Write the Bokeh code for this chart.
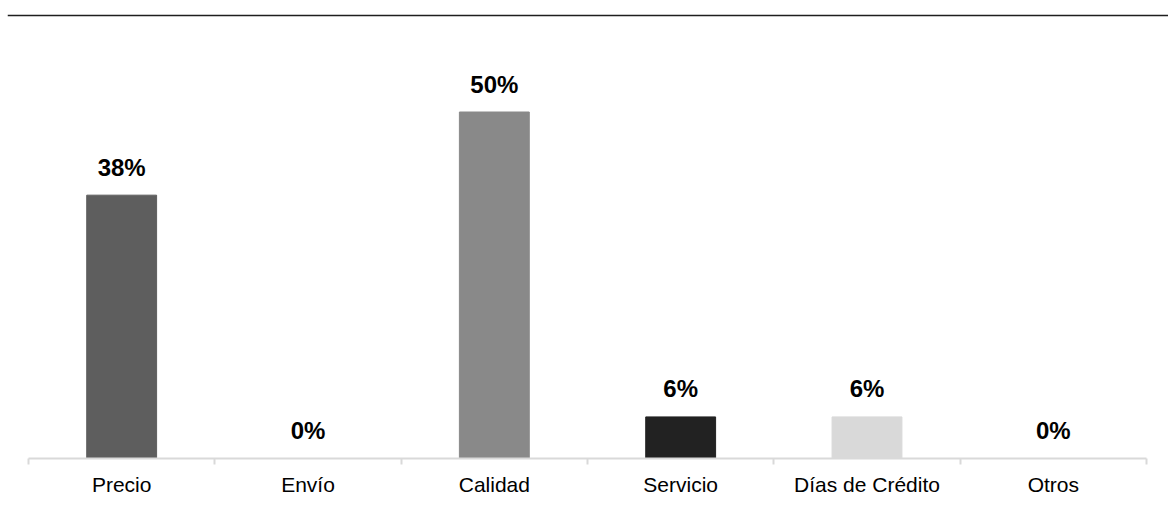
from bokeh.plotting import figure
from bokeh.models import Range1d, FixedTicker, Span, ColumnDataSource, LinearAxis
from bokeh.core.properties import value
from bokeh.embed import file_html
from bokeh.resources import INLINE

categories = ["Precio", "Envío", "Calidad", "Servicio", "Días de Crédito", "Otros"]
values = [38, 0, 50, 6, 6, 0]
labels = ["38%", "0%", "50%", "6%", "6%", "0%"]
colors = ["#5e5e5e", "#5e5e5e", "#898989", "#222222", "#d9d9d9", "#d9d9d9"]

n = len(categories)
centers = [i + 0.5 for i in range(n)]

src = ColumnDataSource(dict(x=centers, top=values, label=labels, color=colors))

unit = 186.33
p = figure(width=1168, height=512, output_backend="svg", toolbar_location=None,
           x_range=Range1d(-21 / unit, n + 22 / unit),
           y_range=Range1d(0, 448 / 6.93),
           min_border_left=7, min_border_right=0, min_border_top=10, min_border_bottom=54,
           x_axis_location=None, y_axis_location=None)
p.outline_line_color = None
p.xgrid.visible = False
p.ygrid.visible = False
p.background_fill_color = "white"
p.border_fill_color = "white"

p.vbar(x="x", top="top", bottom=0, width=0.375, color="color", source=src)

p.text(x="x", y="top", text="label", source=src, text_align="center",
       text_baseline="alphabetic", y_offset=-28,
       text_font=value("Liberation Sans"), text_font_style="bold",
       text_font_size="24px", text_color="#000000")

ax = LinearAxis(ticker=FixedTicker(ticks=centers, minor_ticks=list(range(n + 1))),
                bounds=(0, n))
ax.major_label_overrides = {c: cat for c, cat in zip(centers, categories)}
ax.axis_line_color = "#d9d9d9"
ax.axis_line_width = 2
ax.major_tick_line_color = None
ax.major_tick_out = 0
ax.major_tick_in = 0
ax.minor_tick_line_color = "#d9d9d9"
ax.minor_tick_line_width = 2
ax.minor_tick_out = 6
ax.minor_tick_in = 0
ax.major_label_standoff = 8
ax.major_label_text_font = "Liberation Sans"
ax.major_label_text_font_size = "21px"
ax.major_label_text_color = "#000000"
p.add_layout(ax, "below")

p.add_layout(Span(location=(458 - 15) / 6.93, dimension="width",
                  line_color="#1e1e1e", line_width=1.5))

open("out.html", "w").write(file_html(p, INLINE))
